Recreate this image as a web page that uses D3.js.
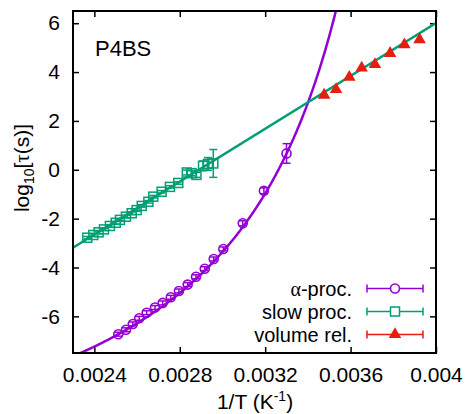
<!DOCTYPE html>
<html><head><meta charset="utf-8">
<script src="https://cdn.jsdelivr.net/npm/d3@7"></script>
<style>body{margin:0;background:#fff}svg{display:block}text{font-family:"Liberation Sans",Arial,sans-serif}</style>
</head><body>
<svg id="c" width="467" height="414"></svg>
<script>
// ---- data ----
const alphaX = [0.002512,0.002548,0.00258,0.00261,0.002645,0.002684,0.00272,0.002758,0.002796,0.002837,0.002876,0.002917,0.002959,0.003004,0.003095,0.003194,0.0033];
const alphaY = [-6.73,-6.55,-6.31,-6.08,-5.85,-5.64,-5.45,-5.22,-4.96,-4.70,-4.38,-4.05,-3.65,-3.24,-2.19,-0.86,0.67];
const alphaErr = [0.08,0.08,0.08,0.08,0.08,0.08,0.08,0.08,0.08,0.08,0.08,0.08,0.08,0.08,0.1,0.12,0.4];
const slowX = [0.002367,0.002395,0.00242,0.002445,0.002473,0.0025,0.00252,0.002548,0.002575,0.002598,0.002622,0.002653,0.002676,0.002715,0.002754,0.002793,0.002833,0.002855,0.002878,0.002909,0.002932,0.002957];
const slowY = [-2.78,-2.67,-2.56,-2.44,-2.30,-2.17,-2.05,-1.92,-1.78,-1.65,-1.48,-1.31,-1.10,-0.90,-0.70,-0.54,-0.11,-0.14,-0.21,0.16,0.24,0.26];
const slowErr = [0.05,0.05,0.05,0.05,0.05,0.05,0.05,0.05,0.05,0.05,0.05,0.05,0.05,0.05,0.05,0.05,0.1,0.1,0.1,0.2,0.26,0.57];
const volX = [0.003476,0.003532,0.003594,0.003652,0.003714,0.003785,0.003852,0.003923];
const volY = [3.06,3.29,3.79,4.17,4.31,4.77,5.12,5.33];
const xTicks = [0.0024,0.0028,0.0032,0.0036,0.004];
const xTickLabels = ["0.0024","0.0028","0.0032","0.0036","0.004"];
const yTicks = [-6,-4,-2,0,2,4,6];
const legendLabels = ["-proc.","slow proc.","volume rel."];
// fit parameters (VFT for alpha, Arrhenius line for slow)
const vftA = -11.48, vftB = 741, vftT0 = 242;
const arrA = -15.62, arrB = 5406;

// ---- layout ----
const svg = d3.select("#c");
const L=73, R=436, T=11, B=353;
const x = d3.scaleLinear().domain([0.0023,0.004]).range([L,R]);
const y = d3.scaleLinear().domain([-7.5,6.5]).range([B,T]);
const cPurple="#9400d3", cGreen="#009e73", cRed="#e51e10";
const fs = 21;

svg.append("defs").append("clipPath").attr("id","clip")
  .append("rect").attr("x",L).attr("y",T).attr("width",R-L).attr("height",B-T);

// axes (ticks inward, mirrored)
const tl = 6;
const gx = svg.append("g").attr("transform",`translate(0,${B})`)
  .call(d3.axisBottom(x).tickValues(xTicks).tickFormat((d,i)=>xTickLabels[i]).tickSizeInner(-tl).tickSizeOuter(0).tickPadding(14));
const gxt = svg.append("g").attr("transform",`translate(0,${T})`)
  .call(d3.axisTop(x).tickValues(xTicks).tickFormat("").tickSizeInner(-tl).tickSizeOuter(0));
const gy = svg.append("g").attr("transform",`translate(${L},0)`)
  .call(d3.axisLeft(y).tickValues(yTicks).tickFormat(d=>d<0?"-"+Math.abs(d):d).tickSizeInner(-tl).tickSizeOuter(0).tickPadding(13));
const gyr = svg.append("g").attr("transform",`translate(${R},0)`)
  .call(d3.axisRight(y).tickValues(yTicks).tickFormat("").tickSizeInner(-tl).tickSizeOuter(0));
[gx,gxt,gy,gyr].forEach(g=>{
  g.select(".domain").remove();
  g.selectAll("line").attr("stroke","#000").attr("stroke-width",1.5);
  g.selectAll("text").attr("font-size",fs).attr("fill","#000").attr("font-family","Liberation Sans, Arial, sans-serif");
});
gx.selectAll("text").attr("dy","0.71em");

const plot = svg.append("g").attr("clip-path","url(#clip)");

// fit curves
const nS = 400;
const xs = d3.range(nS+1).map(i=>x.domain()[0]+i*(x.domain()[1]-x.domain()[0])/nS);
const vft = xs.map(v=>{const Tk=1/v; return [v, vftA+vftB/(Tk-vftT0)];}).filter(p=>p[1]<9 && 1/p[0]>vftT0);
plot.append("path").datum(vft).attr("fill","none").attr("stroke",cPurple).attr("stroke-width",2.5)
  .attr("d",d3.line().x(d=>x(d[0])).y(d=>y(d[1])));
plot.append("path").datum(x.domain().map(v=>[v,arrA+arrB*v])).attr("fill","none").attr("stroke",cGreen).attr("stroke-width",2.5)
  .attr("d",d3.line().x(d=>x(d[0])).y(d=>y(d[1])));

// error bars helper
function errBar(g, cx, cy0, cy1, col, w){
  g.append("line").attr("x1",cx).attr("x2",cx).attr("y1",cy0).attr("y2",cy1).attr("stroke",col).attr("stroke-width",1.5);
  g.append("line").attr("x1",cx-w).attr("x2",cx+w).attr("y1",cy0).attr("y2",cy0).attr("stroke",col).attr("stroke-width",1.5);
  g.append("line").attr("x1",cx-w).attr("x2",cx+w).attr("y1",cy1).attr("y2",cy1).attr("stroke",col).attr("stroke-width",1.5);
}

// slow squares
const gs = plot.append("g");
slowX.forEach((v,i)=>{
  const cx=x(v), cy=y(slowY[i]);
  errBar(gs,cx,y(slowY[i]-slowErr[i]),y(slowY[i]+slowErr[i]),cGreen,4);
  gs.append("rect").attr("x",cx-4.5).attr("y",cy-4.5).attr("width",9).attr("height",9)
    .attr("fill","none").attr("stroke",cGreen).attr("stroke-width",1.5);
});
// alpha circles
const ga = plot.append("g");
alphaX.forEach((v,i)=>{
  const cx=x(v), cy=y(alphaY[i]);
  errBar(ga,cx,y(alphaY[i]-alphaErr[i]),y(alphaY[i]+alphaErr[i]),cPurple,4);
  ga.append("circle").attr("cx",cx).attr("cy",cy).attr("r",4.5)
    .attr("fill","none").attr("stroke",cPurple).attr("stroke-width",1.6);
});
// volume triangles
const tri = d3.symbol().type(d3.symbolTriangle).size(68);
const gv = plot.append("g");
volX.forEach((v,i)=>{
  gv.append("path").attr("d",tri).attr("transform",`translate(${x(v)},${y(volY[i])})`).attr("fill",cRed);
});

// frame
svg.append("rect").attr("x",L).attr("y",T).attr("width",R-L).attr("height",B-T)
  .attr("fill","none").attr("stroke","#000").attr("stroke-width",2);

// label in plot
svg.append("text").attr("x",95).attr("y",56).attr("font-size",22).text("P4BS");

// legend
const legY=[288.5,311.5,334.5], lx0=367, lx1=423, lxm=395, ltx=352;
const legCols=[cPurple,cGreen,cRed];
legendLabels.forEach((lab,i)=>{
  const g=svg.append("g");
  const col=legCols[i], yy=legY[i];
  const t=g.append("text").attr("x",ltx).attr("y",yy).attr("dy","0.35em").attr("text-anchor","end").attr("font-size",20);
  if(i===0) t.append("tspan").attr("font-family","Liberation Serif, Times New Roman, serif").text("\u03b1");
  t.append("tspan").text(lab);
  g.append("line").attr("x1",lx0).attr("x2",lx1).attr("y1",yy).attr("y2",yy).attr("stroke",col).attr("stroke-width",1.5);
  [lx0,lx1].forEach(xx=>g.append("line").attr("x1",xx).attr("x2",xx).attr("y1",yy-4).attr("y2",yy+4).attr("stroke",col).attr("stroke-width",1.5));
  if(i===0) g.append("circle").attr("cx",lxm).attr("cy",yy).attr("r",4.5).attr("fill","#fff").attr("stroke",col).attr("stroke-width",1.6);
  if(i===1) g.append("rect").attr("x",lxm-4.5).attr("y",yy-4.5).attr("width",9).attr("height",9).attr("fill","#fff").attr("stroke",col).attr("stroke-width",1.5);
  if(i===2) g.append("path").attr("d",tri).attr("transform",`translate(${lxm},${yy})`).attr("fill",col);
});

// axis titles
const xt = svg.append("text").attr("x",255).attr("y",409).attr("text-anchor","middle").attr("font-size",fs);
xt.append("tspan").text("1/T (K");
xt.append("tspan").attr("font-size",14).attr("dy",-8).text("-1");
xt.append("tspan").attr("dy",8).text(")");
const yt = svg.append("text").attr("transform","translate(29,168) rotate(-90)").attr("text-anchor","middle").attr("font-size",fs);
yt.append("tspan").text("log");
yt.append("tspan").attr("font-size",14).attr("dy",5).text("10");
yt.append("tspan").attr("dy",-5).text("[");
yt.append("tspan").attr("font-family","Liberation Serif, Times New Roman, serif").text("\u03c4");
yt.append("tspan").text("(s)]");
</script>
</body></html>
